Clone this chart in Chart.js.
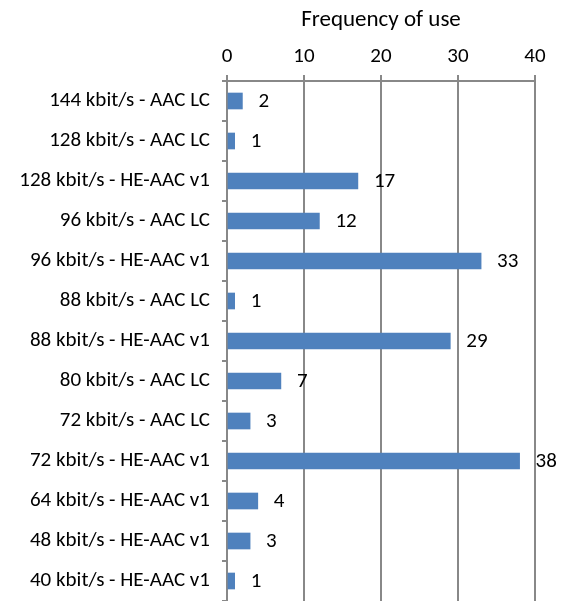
<!DOCTYPE html>
<html>
<head>
<meta charset="utf-8">
<script src="https://cdn.jsdelivr.net/npm/chart.js@4"></script>
<style>
  html, body { margin: 0; padding: 0; background: #fff; }
  canvas { display: block; }
</style>
</head>
<body>
<canvas id="chart" width="569" height="601"></canvas>
<script>
// bitrate / codec combos and how often each was used
const categories = [
  '144 kbit/s - AAC LC',
  '128 kbit/s - AAC LC',
  '128 kbit/s - HE-AAC v1',
  '96 kbit/s - AAC LC',
  '96 kbit/s - HE-AAC v1',
  '88 kbit/s - AAC LC',
  '88 kbit/s - HE-AAC v1',
  '80 kbit/s - AAC LC',
  '72 kbit/s - AAC LC',
  '72 kbit/s - HE-AAC v1',
  '64 kbit/s - HE-AAC v1',
  '48 kbit/s - HE-AAC v1',
  '40 kbit/s - HE-AAC v1'
];
const usage = [2, 1, 17, 12, 33, 1, 29, 7, 3, 38, 4, 3, 1];
const xTicks = [0, 10, 20, 30, 40];

const FONT = 'Carlito, "Open Sans", sans-serif';
const FONT_SIZE = 21;
const axisGray = '#888888';

// prints the count just right of each bar
const valueLabels = {
  id: 'valueLabels',
  afterDatasetsDraw(chart) {
    const ctx = chart.ctx;
    const meta = chart.getDatasetMeta(0);
    ctx.save();
    ctx.font = FONT_SIZE + 'px ' + FONT;
    ctx.fillStyle = '#000';
    ctx.textAlign = 'left';
    ctx.textBaseline = 'middle';
    meta.data.forEach((bar, i) => {
      ctx.fillText(String(usage[i]), bar.x + 16, bar.y + 1);
    });
    ctx.restore();
  }
};

new Chart(document.getElementById('chart'), {
  type: 'bar',
  data: {
    labels: categories,
    datasets: [{
      data: usage,
      backgroundColor: '#4f81bd',
      borderWidth: 0,
      barThickness: 16
    }]
  },
  options: {
    indexAxis: 'y',
    responsive: false,
    animation: false,
    layout: { padding: { top: 0, right: 34, bottom: 0, left: 0 } },
    plugins: {
      legend: { display: false },
      tooltip: { enabled: false }
    },
    scales: {
      x: {
        position: 'top',
        min: 0,
        max: 40,
        afterBuildTicks(scale) {
          scale.ticks = xTicks.map(v => ({ value: v }));
        },
        afterFit(scale) {
          scale.height = 81;
          scale.paddingLeft = 0;
          scale.paddingRight = 0;
        },
        title: {
          display: true,
          text: 'Frequency of use',
          color: '#000',
          font: { family: FONT, size: 23 },
          padding: { top: 6, bottom: 0 }
        },
        ticks: {
          color: '#000',
          font: { family: FONT, size: FONT_SIZE },
          padding: 6
        },
        grid: {
          color: axisGray,
          lineWidth: 2,
          tickLength: 6
        },
        border: { color: axisGray, width: 2 }
      },
      y: {
        afterFit(scale) {
          scale.width = 227;
          scale.paddingTop = 0;
          scale.paddingBottom = 0;
        },
        ticks: {
          color: '#000',
          font: { family: FONT, size: FONT_SIZE },
          padding: 12
        },
        grid: {
          offset: true,
          drawOnChartArea: false,
          color: axisGray,
          lineWidth: 2,
          tickLength: 5
        },
        border: { color: axisGray, width: 2 }
      }
    }
  },
  plugins: [valueLabels]
});
</script>
</body>
</html>
